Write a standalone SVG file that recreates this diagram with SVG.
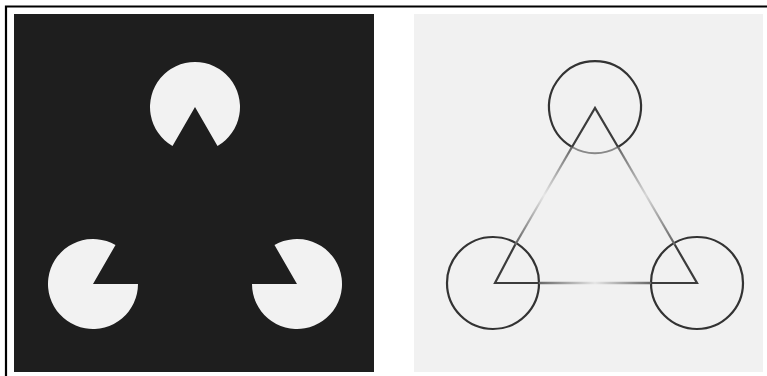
<svg xmlns="http://www.w3.org/2000/svg" width="767" height="376" viewBox="0 0 767 376">
<defs>
<style>
.pac{fill:#f2f2f2}
.ring{fill:none;stroke:#333;stroke-width:2.2}
.edge{fill:none;stroke:#3c3c3c;stroke-width:2.2;stroke-linecap:round}
</style>
<linearGradient id="gL" gradientUnits="userSpaceOnUse" x1="572" y1="147" x2="515" y2="243">
<stop offset="0" stop-color="#666"/><stop offset="0.5" stop-color="#e6e6e6"/><stop offset="1" stop-color="#666"/>
</linearGradient>
<linearGradient id="gR" gradientUnits="userSpaceOnUse" x1="618" y1="147" x2="674" y2="243">
<stop offset="0" stop-color="#666"/><stop offset="0.5" stop-color="#d6d6d6"/><stop offset="1" stop-color="#666"/>
</linearGradient>
<linearGradient id="gB" gradientUnits="userSpaceOnUse" x1="539" y1="283" x2="651" y2="283">
<stop offset="0" stop-color="#666"/><stop offset="0.5" stop-color="#e6e6e6"/><stop offset="1" stop-color="#666"/>
</linearGradient>
</defs>
<rect width="767" height="376" fill="#fff"/>
<path d="M6 376V6.5H767" fill="none" stroke="#000" stroke-width="2.2"/>
<g id="left-panel">
<rect x="14" y="14" width="360" height="358" fill="#1e1e1e"/>
<g id="pac-top"><path class="pac" d="M195 107 L172.5 146 A45 45 0 1 1 217.5 146 Z"/></g>
<g id="pac-left"><path class="pac" d="M93 284 L138 284 A45 45 0 1 1 115.5 245 Z"/></g>
<g id="pac-right"><path class="pac" d="M297 284 L274.5 245 A45 45 0 1 1 252 284 Z"/></g>
</g>
<g id="right-panel">
<rect x="414" y="14" width="349" height="358" fill="#f1f1f1"/>
<g id="circle-top">
<path class="ring" d="M572 147 A46 46 0 1 1 618 147"/>
<path d="M572 147 A46 46 0 0 0 618 147" fill="none" stroke="#888" stroke-width="2"/>
</g>
<g id="circle-left"><circle class="ring" cx="493" cy="283" r="46"/></g>
<g id="circle-right"><circle class="ring" cx="697" cy="283" r="46"/></g>
<g id="connectors">
<path class="edge" d="M572 147 L595 108 L618 147"/>
<path class="edge" d="M515 245 L495 283 L539 283"/>
<path class="edge" d="M675 245 L697 283 L651 283"/>
<path d="M572 147 L515 245" stroke="url(#gL)" stroke-width="2.2" fill="none"/>
<path d="M618 147 L675 245" stroke="url(#gR)" stroke-width="2.2" fill="none"/>
<path d="M539 283 L651 283" stroke="url(#gB)" stroke-width="2.6" fill="none"/>
</g>
</g>
</svg>
